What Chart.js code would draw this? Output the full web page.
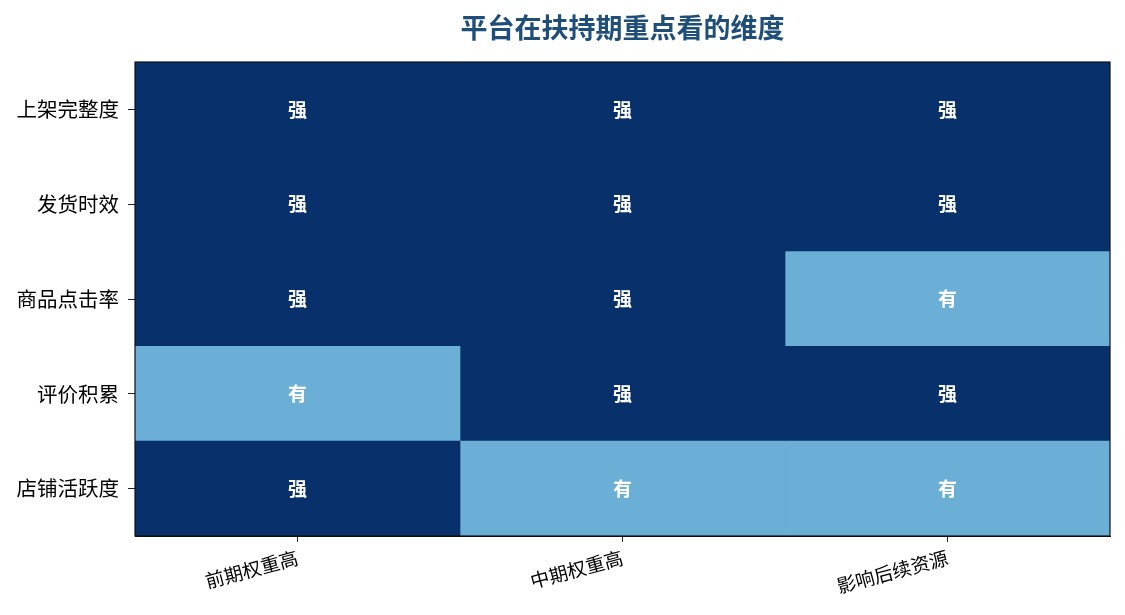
<!DOCTYPE html>
<html>
<head>
<meta charset="utf-8">
<script src="https://cdn.jsdelivr.net/npm/chart.js@4/dist/chart.umd.min.js"></script>
<style>
  body { margin: 0; background: #fff; }
</style>
</head>
<body>
<canvas id="myChart" width="1125" height="615"></canvas>
<script>
// rows (top to bottom) and columns of the heatmap
const rowLabels = ['上架完整度', '发货时效', '商品点击率', '评价积累', '店铺活跃度'];
const colLabels = ['前期权重高', '中期权重高', '影响后续资源'];

// level per column, one entry per row: 2 = 强, 1 = 有
const early = [2, 2, 2, 1, 2];
const middle = [2, 2, 2, 2, 1];
const later = [2, 2, 1, 2, 1];

const levelText = { 1: '有', 2: '强' };
const levelColor = { 1: '#6baed6', 2: '#08306b' };

const columns = [early, middle, later];
const chartTitle = '平台在扶持期重点看的维度';
const font = "'Noto Sans CJK SC', 'Noto Sans', sans-serif";

// write 强/有 in the middle of each cell
const cellText = {
  id: 'cellText',
  afterDatasetsDraw(chart) {
    const ctx = chart.ctx;
    ctx.save();
    ctx.fillStyle = '#ffffff';
    ctx.font = 'bold 19px ' + font;
    ctx.textAlign = 'center';
    ctx.textBaseline = 'middle';
    chart.data.datasets.forEach((ds, di) => {
      const meta = chart.getDatasetMeta(di);
      meta.data.forEach((bar, i) => {
        const cx = (bar.x + bar.base) / 2;
        ctx.fillText(levelText[columns[di][i]], cx, bar.y);
      });
    });
    ctx.restore();
  }
};

// box around the plot + title centred over the plot
const frame = {
  id: 'frame',
  afterDraw(chart) {
    const a = chart.chartArea;
    const ctx = chart.ctx;
    ctx.save();
    ctx.strokeStyle = '#111';
    ctx.lineWidth = 1.2;
    ctx.strokeRect(a.left, a.top, a.right - a.left, a.bottom - a.top);
    ctx.fillStyle = '#1f4e79';
    ctx.font = 'bold 27px ' + font;
    ctx.textAlign = 'center';
    ctx.textBaseline = 'middle';
    ctx.fillText(chartTitle, (a.left + a.right) / 2, 28);
    ctx.restore();
  }
};

function mainEvent() {
  const ctx = document.querySelector('#myChart');
  Chart.defaults.font.family = font;

  new Chart(ctx, {
    type: 'bar',
    data: {
      labels: rowLabels,
      datasets: colLabels.map((name, ci) => ({
        label: name,
        data: rowLabels.map(() => 1),
        backgroundColor: (c) => levelColor[columns[ci][c.dataIndex]],
        borderWidth: 0,
        barPercentage: 1,
        categoryPercentage: 1
      }))
    },
    options: {
      responsive: false,
      animation: false,
      indexAxis: 'y',
      layout: { padding: { left: 0, right: 15, top: 62, bottom: 0 } },
      plugins: {
        legend: { display: false },
        tooltip: { enabled: false },
        title: { display: false }
      },
      scales: {
        x: {
          stacked: true,
          min: 0,
          max: 3,
          afterBuildTicks: (scale) => {
            scale.ticks = colLabels.map((_, i) => ({ value: i + 0.5 }));
          },
          afterFit: (scale) => { scale.height = 79; },
          ticks: {
            autoSkip: false,
            minRotation: 15,
            maxRotation: 15,
            color: '#000',
            font: { size: 19 },
            padding: 4,
            callback: (v) => colLabels[Math.floor(v)]
          },
          grid: { drawOnChartArea: false, drawTicks: true, tickLength: 6, color: '#222' },
          border: { display: true, color: '#111' }
        },
        y: {
          stacked: true,
          afterFit: (scale) => { scale.width = 135; },
          ticks: { color: '#000', font: { size: 20.5 }, padding: 9 },
          grid: { offset: false, drawOnChartArea: false, drawTicks: true, tickLength: 7, color: '#222' },
          border: { display: true, color: '#111' }
        }
      }
    },
    plugins: [cellText, frame]
  });
}

document.addEventListener('DOMContentLoaded', () => mainEvent());
</script>
</body>
</html>
